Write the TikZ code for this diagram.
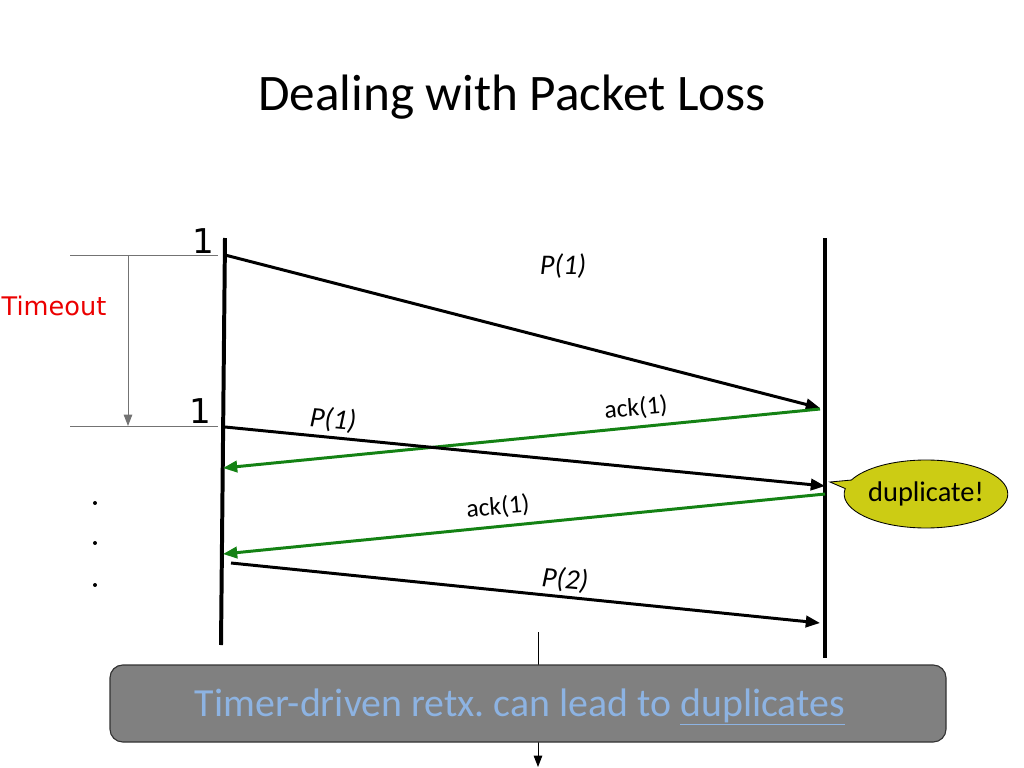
\documentclass[tikz,border=0pt]{standalone}
\usepackage{fontspec}
\setmainfont{Carlito}
\newfontfamily\verd{DejaVu Sans}
\usetikzlibrary{arrows.meta,shapes.callouts}
\definecolor{ackgreen}{RGB}{20,130,20}
\definecolor{bubble}{RGB}{204,204,20}
\definecolor{boxgray}{RGB}{128,128,128}
\definecolor{lightblue}{RGB}{141,179,226}
\definecolor{tored}{RGB}{235,0,0}
\tikzset{
  timeline/.style={line width=2.8pt},
  pkt/.style={line width=2.1pt,-{Triangle[length=10pt,width=8pt]}},
  ack/.style={pkt,draw=ackgreen,color=ackgreen},
  guide/.style={line width=0.7pt,draw=gray!90!black},
  lbl/.style={inner sep=0pt,font=\fontsize{18}{20}\selectfont},
  plbl/.style={inner sep=0pt,font=\fontsize{20}{22}\selectfont\itshape},
  seq/.style={inner sep=0pt,font=\verd\fontsize{24}{26}\selectfont},
}
\frenchspacing
\begin{document}
\begin{tikzpicture}[x=0.703pt,y=-0.703pt]
\useasboundingbox (0,0) rectangle (1024,768);
% title
\node[inner sep=0pt,font=\fontsize{36}{40}\selectfont] (title) at (512,97) {Dealing with Packet Loss};
% timelines
\coordinate (Ltop) at (225,238);
\coordinate (Lbot) at (221,645);
\coordinate (Rtop) at (825,238);
\coordinate (Rbot) at (825,658);
\draw[timeline] (Ltop) -- (Lbot);
\draw[timeline] (Rtop) -- (Rbot);
% sequence numbers
\node[seq] (one1) at (203,241) {1};
\node[seq] (one2) at (200,411) {1};
% timeout guides
\coordinate (g1a) at (70,255);
\coordinate (g1b) at (218,255);
\coordinate (g2a) at (70,426);
\coordinate (g2b) at (218,426);
\draw[guide] (g1a) -- (g1b);
\draw[guide] (g2a) -- (g2b);
\coordinate (ta) at (128,255);
\coordinate (tb) at (128,426);
\draw[guide,-{Triangle[length=8pt,width=6pt]}] (ta) -- (tb);
\node[inner sep=0pt,text=tored,font=\verd\fontsize{18}{20}\selectfont] (timeout) at (54,306) {Timeout};
% packets
\coordinate (p1s) at (225,255);
\coordinate (p1e) at (820,408);
\draw[pkt] (p1s) -- (p1e);
\node[plbl] (p1l) at (563,266) {P(1)};
\coordinate (a1s) at (820,409);
\coordinate (a1e) at (223,468);
\draw[ack] (a1s) -- (a1e);
\node[lbl,rotate=5] (a1l) at (636,408) {ack(1)};
\coordinate (p2s) at (225,427);
\coordinate (p2e) at (825,486);
\draw[pkt] (p2s) -- (p2e);
\node[plbl,rotate=-5] (p2l) at (333,420) {P(1)};
\coordinate (a2s) at (825,494);
\coordinate (a2e) at (223,554);
\draw[ack] (a2s) -- (a2e);
\node[lbl,rotate=5] (a2l) at (498,507) {ack(1)};
\coordinate (p3s) at (231,563);
\coordinate (p3e) at (820,623);
\draw[pkt] (p3s) -- (p3e);
\node[plbl,rotate=-5] (p3l) at (565,580) {P(2)};
% dots
\foreach \yy/\nm in {503/d1,543/d2,585/d3}
  \node[circle,fill=black,inner sep=0pt,minimum size=2.8pt] (\nm) at (95,\yy) {};
% callout
\coordinate (tip) at (830,482);
\node[ellipse callout,draw=black,line width=0.6pt,fill=bubble,minimum width=140pt*0.703,minimum height=68pt*0.703,
  inner sep=0pt,callout absolute pointer={(tip)},font=\fontsize{20}{22}\selectfont] (dup) at (926,494) {duplicate!};
% bottom box and line behind
\coordinate (va) at (538,632);
\coordinate (vb) at (538,767);
\draw[line width=0.7pt,-{Triangle[length=8pt,width=6pt]}] (va) -- (vb);
\node[draw=black!80,line width=0.8pt,fill=boxgray,rounded corners=9pt,minimum width=836*0.703pt,minimum height=77*0.703pt,
  inner sep=0pt] (msg) at (528,703.5) {};
\node[inner sep=0pt,text=lightblue,font=\fontsize{28}{30}\selectfont,anchor=base] (msgtext) at (520,716)
  {Timer-driven retx. can lead to \underline{duplicates}};
\end{tikzpicture}
\end{document}
